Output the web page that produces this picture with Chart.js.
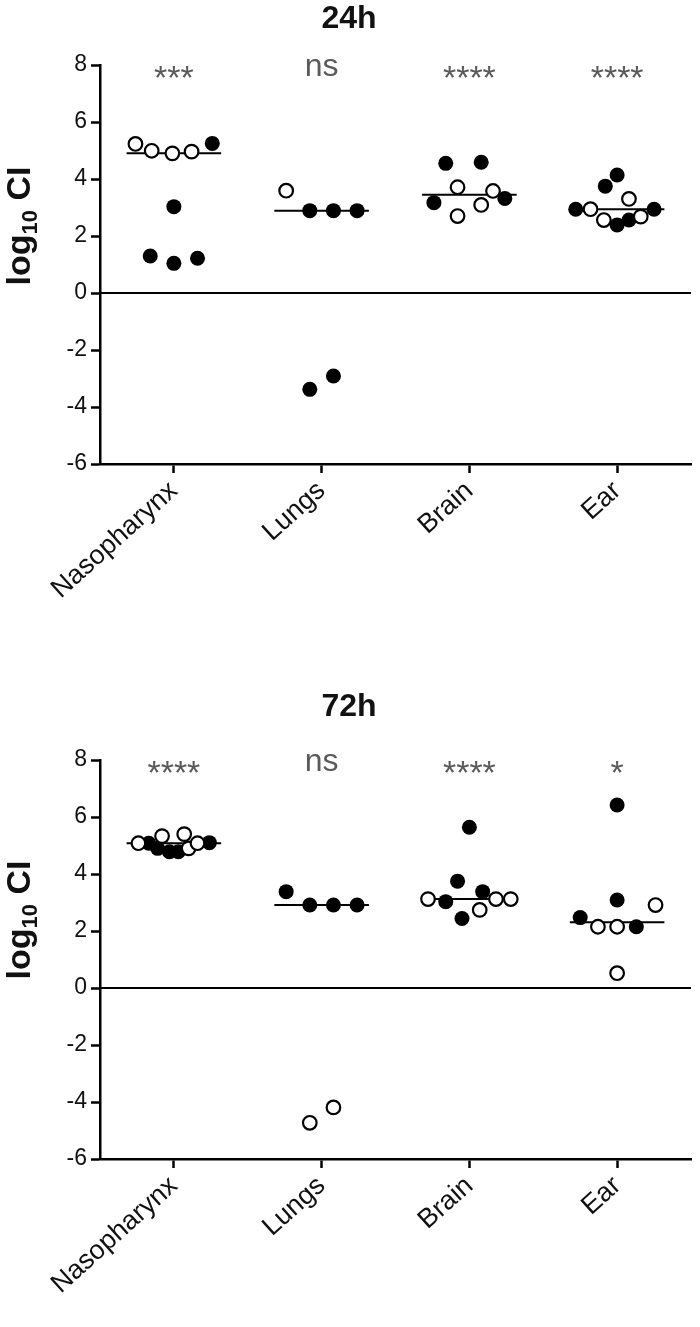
<!DOCTYPE html>
<html>
<head>
<meta charset="utf-8">
<script src="https://cdn.jsdelivr.net/npm/chart.js@4.4.1/dist/chart.umd.min.js"></script>
<style>
  body { margin: 0; background: #fff; }
  .wrap { position: absolute; left: 0; }
</style>
</head>
<body>
<div class="wrap" style="top:0"><canvas id="c24" width="700" height="650"></canvas></div>
<div class="wrap" style="top:650px"><canvas id="c72" width="700" height="677"></canvas></div>
<script>
const organs = ["Nasopharynx", "Lungs", "Brain", "Ear"];
const yTicks = [-6, -4, -2, 0, 2, 4, 6, 8];

// log10 CI, 24h
const filled24 = [
  [5.25, 3.03, 1.30, 1.04, 1.22],
  [2.89, 2.89, 2.89, -3.38, -2.91],
  [4.55, 4.59, 3.17, 3.32],
  [4.14, 3.75, 2.94, 2.94, 2.39, 2.56]
];
const open24 = [
  [5.23, 4.99, 4.90, 4.96],
  [3.59],
  [3.71, 2.70, 3.09, 3.58],
  [3.30, 2.94, 2.56, 2.68]
];
const sig24 = ["***", "ns", "****", "****"];

// log10 CI, 72h
const filled72 = [
  [5.08, 4.90, 4.78, 4.78, 5.10],
  [3.38, 2.91, 2.91, 2.91],
  [5.64, 3.75, 3.03, 3.38, 2.44],
  [6.42, 3.09, 2.47, 2.15]
];
const open72 = [
  [5.08, 5.33, 5.40, 4.90, 5.08],
  [-4.73, -4.19],
  [3.12, 2.74, 3.12, 3.12],
  [2.91, 2.15, 2.15, 0.52]
];
const sig72 = ["****", "ns", "****", "*"];

// horizontal spread of the dots inside each column (fraction of column width)
const filled24Spread = [[0.26, 0, -0.16, 0, 0.16], [-0.08, 0.08, 0.24, -0.08, 0.08], [-0.16, 0.08, -0.24, 0.24], [0, -0.08, -0.28, 0.25, 0, 0.08]];
const open24Spread = [[-0.26, -0.15, -0.01, 0.12], [-0.24], [-0.08, -0.08, 0.08, 0.16], [0.08, -0.18, -0.09, 0.16]];
const filled72Spread = [[-0.17, -0.11, -0.03, 0.03, 0.24], [-0.24, -0.08, 0.08, 0.24], [0, -0.08, -0.16, 0.09, -0.05], [0, 0, -0.25, 0.13]];
const open72Spread = [[-0.24, -0.08, 0.07, 0.10, 0.16], [-0.08, 0.08], [-0.28, 0.07, 0.18, 0.28], [0.26, -0.13, 0, 0]];

const FONT = "'Liberation Sans', Arial, sans-serif";
const NARROW = "'Liberation Sans Narrow', 'Arial Narrow', 'Liberation Sans', Arial, sans-serif";

function toPoints(vals, spread) {
  return vals.flatMap((g, i) => g.map((v, k) => ({ x: i + spread[i][k], y: v })));
}

function median(arr) {
  const s = arr.slice().sort((a, b) => a - b);
  const m = Math.floor(s.length / 2);
  return s.length % 2 ? s[m] : (s[m - 1] + s[m]) / 2;
}

const extras = {
  id: "extras",
  beforeDatasetsDraw(chart) {
    const { ctx, chartArea, scales } = chart;
    const y0 = scales.y.getPixelForValue(0);
    ctx.save();
    ctx.strokeStyle = "#000";
    ctx.lineWidth = 2;
    ctx.beginPath();
    ctx.moveTo(chartArea.left, y0);
    ctx.lineTo(chartArea.right, y0);
    ctx.stroke();
    ctx.restore();
  },
  afterDraw(chart, args, opts) {
    const { ctx, chartArea, scales } = chart;
    ctx.save();
    // title
    ctx.fillStyle = "#111";
    ctx.font = "bold 32px " + FONT;
    ctx.textAlign = "center";
    ctx.fillText(opts.title, 349, opts.titleY);
    // significance marks
    ctx.fillStyle = "#5a5a5a";
    opts.sig.forEach((s, i) => {
      const x = scales.x.getPixelForValue(i);
      if (s === "ns") {
        ctx.font = "32px " + FONT;
        ctx.fillText(s, x, chartArea.top + 11);
      } else {
        ctx.font = "34px " + FONT;
        ctx.fillText(s, x, chartArea.top + 24);
      }
    });
    // y axis title: log10 CI
    ctx.fillStyle = "#111";
    ctx.translate(30, opts.yTitleY);
    ctx.rotate(-Math.PI / 2);
    ctx.textAlign = "left";
    ctx.font = "bold 34px " + FONT;
    const w1 = ctx.measureText("log").width;
    ctx.font = "bold 22px " + FONT;
    const w2 = ctx.measureText("10").width;
    ctx.font = "bold 34px " + FONT;
    const w3 = ctx.measureText(" CI").width;
    let x = -(w1 + w2 + w3) / 2;
    ctx.fillText("log", x, 0);
    x += w1;
    ctx.font = "bold 22px " + FONT;
    ctx.fillText("10", x, 7);
    x += w2;
    ctx.font = "bold 34px " + FONT;
    ctx.fillText(" CI", x, 0);
    ctx.restore();
  }
};

function makeChart(id, title, filled, open, fSpread, oSpread, sig, plotTop, plotBottom, titleY, yTitleY) {
  const canvas = document.getElementById(id);
  const H = canvas.height;
  const medians = organs.map((o, i) => {
    const m = median(filled[i].concat(open[i]));
    return {
      type: "line",
      data: [{ x: i - 0.32, y: m }, { x: i + 0.32, y: m }],
      borderColor: "#000",
      borderWidth: 2,
      pointRadius: 0,
      order: 3
    };
  });
  return new Chart(canvas, {
    type: "scatter",
    data: {
      datasets: [
        {
          data: toPoints(filled, fSpread),
          backgroundColor: "#000",
          borderColor: "#000",
          borderWidth: 0,
          pointRadius: 7.5,
          order: 2
        },
        {
          data: toPoints(open, oSpread),
          backgroundColor: "#fff",
          borderColor: "#000",
          borderWidth: 2.2,
          pointRadius: 6.8,
          order: 1
        },
        ...medians
      ]
    },
    options: {
      responsive: false,
      animation: false,
      events: [],
      layout: { padding: { top: plotTop, right: 4, left: 0, bottom: 0 } },
      plugins: {
        legend: { display: false },
        tooltip: { enabled: false },
        extras: { title: title, sig: sig, titleY: titleY, yTitleY: yTitleY }
      },
      scales: {
        x: {
          type: "linear",
          min: -0.5,
          max: 3.5,
          afterBuildTicks: (s) => { s.ticks = organs.map((o, i) => ({ value: i })); },
          afterFit: (s) => { s.height = H - plotBottom; },
          ticks: {
            callback: (v) => organs[v],
            color: "#111",
            font: { family: FONT, size: 27 },
            minRotation: 42,
            maxRotation: 42,
            padding: 2
          },
          grid: { drawOnChartArea: false, tickLength: 9, tickWidth: 2.5, tickColor: "#000" },
          border: { color: "#000", width: 2.5 }
        },
        y: {
          min: -6,
          max: 8,
          afterBuildTicks: (s) => { s.ticks = yTicks.map((v) => ({ value: v })); },
          afterFit: (s) => { s.width = 100; },
          ticks: {
            color: "#111",
            font: { family: NARROW, size: 23 },
            padding: 4
          },
          grid: { drawOnChartArea: false, tickLength: 9, tickWidth: 2.5, tickColor: "#000" },
          border: { color: "#000", width: 2.5 }
        }
      }
    },
    plugins: [extras]
  });
}

makeChart("c24", "24h", filled24, open24, filled24Spread, open24Spread, sig24, 65, 464, 28, 226);
makeChart("c72", "72h", filled72, open72, filled72Spread, open72Spread, sig72, 110, 509, 66, 270);
</script>
</body>
</html>
